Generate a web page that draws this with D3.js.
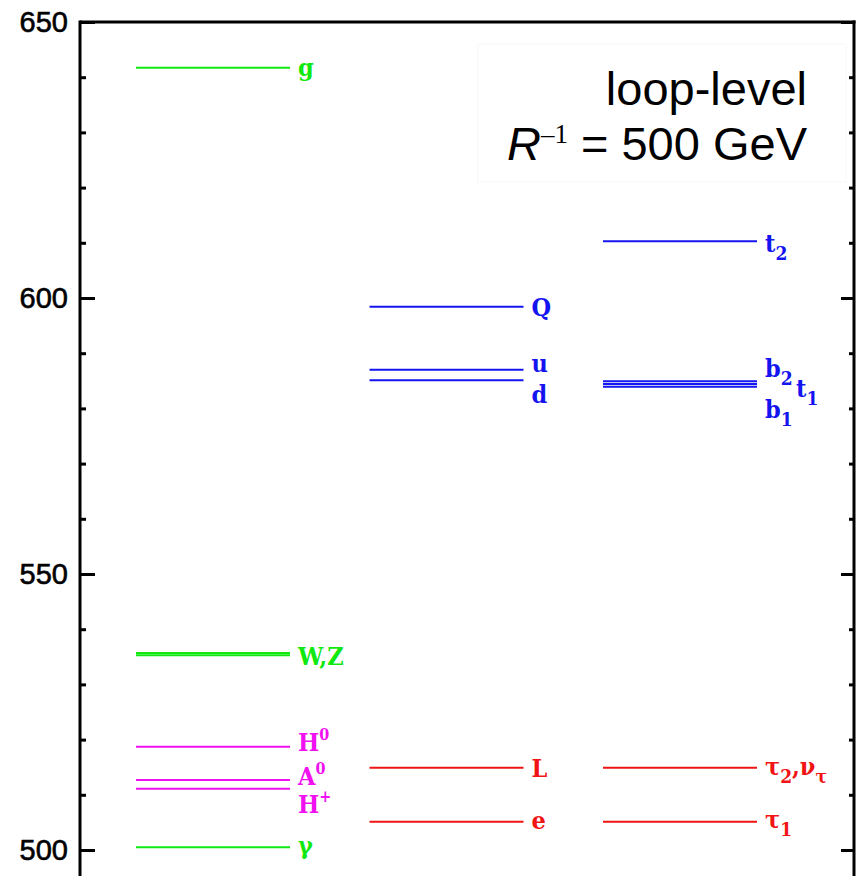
<!DOCTYPE html>
<html>
<head>
<meta charset="utf-8">
<script src="https://cdn.jsdelivr.net/npm/d3@7"></script>
<style>
  body { margin: 0; background: #fff; }
  svg { display: block; }
  .axis path { display: none; }
  .axis line { stroke: #000; stroke-width: 3; }
  .axis text { font-family: "Liberation Sans", Arial, sans-serif; font-size: 29px; fill: #000; stroke: #000; stroke-width: 0.6; }
  .lvl-label { font-family: "DejaVu Serif Condensed", "DejaVu Serif", serif; font-stretch: condensed; font-weight: bold; font-size: 25px; }
</style>
</head>
<body>
<div id="chart"></div>
<script>
const width = 857;
const height = 876;

// KK mass levels (GeV), one list per column
const columns = ["bosons", "quarks", "third"];

const bosonNames  = ["g", "W", "Z", "H0", "A0", "H+", "γ"];
const bosonMasses = [641.7, 535.3, 535.7, 518.7, 512.7, 511.1, 500.5];
const bosonKinds  = ["gauge", "gauge", "gauge", "higgs", "higgs", "higgs", "gauge"];

const quarkNames  = ["Q", "u", "d", "L", "e"];
const quarkMasses = [598.4, 587.0, 585.1, 514.9, 505.1];
const quarkKinds  = ["quark", "quark", "quark", "lepton", "lepton"];

const thirdNames  = ["t2", "b2", "t1", "b1", "τ2", "τ1"];
const thirdMasses = [610.3, 584.9, 584.4, 583.9, 514.9, 505.1];
const thirdKinds  = ["quark", "quark", "quark", "quark", "lepton", "lepton"];

const majorTicks = [500, 550, 600, 650];
const minorTicks = d3.range(500, 651, 10).filter(v => v % 50 !== 0);

const kindColor = {
  gauge: "#10e810",
  higgs: "#f010f0",
  quark: "#1414f0",
  lepton: "#f01414"
};

const svg = d3.select('#chart')
  .append('svg')
  .attr('width', width)
  .attr('height', height);

const marginLeft = 80, frameRight = 854, frameTop = 22;

const y = d3.scaleLinear()
  .domain([500, 650])
  .range([850, frameTop]);

// column start positions, fixed line length
const x = d3.scalePoint()
  .domain(columns)
  .range([136, 603]);
const lineLen = 154;

// frame
svg.append('line')
  .attr('x1', marginLeft).attr('x2', frameRight + 1.5)
  .attr('y1', frameTop).attr('y2', frameTop)
  .attr('stroke', '#000').attr('stroke-width', 3);
svg.append('line')
  .attr('x1', marginLeft).attr('x2', marginLeft)
  .attr('y1', frameTop - 1.5).attr('y2', height)
  .attr('stroke', '#000').attr('stroke-width', 3);
svg.append('line')
  .attr('x1', frameRight).attr('x2', frameRight)
  .attr('y1', frameTop - 1.5).attr('y2', height)
  .attr('stroke', '#000').attr('stroke-width', 3);

// left axis
svg.append('g')
  .attr('class', 'axis')
  .attr('transform', `translate(${marginLeft},0)`)
  .call(d3.axisLeft(y).tickValues(majorTicks).tickSize(-15).tickPadding(12).tickFormat(d3.format('d')));
svg.append('g')
  .attr('class', 'axis')
  .attr('transform', `translate(${marginLeft},0)`)
  .call(d3.axisLeft(y).tickValues(minorTicks).tickSize(-6).tickFormat(''));

// right axis
svg.append('g')
  .attr('class', 'axis')
  .attr('transform', `translate(${frameRight},0)`)
  .call(d3.axisRight(y).tickValues(majorTicks).tickSize(-13).tickFormat(''));
svg.append('g')
  .attr('class', 'axis')
  .attr('transform', `translate(${frameRight},0)`)
  .call(d3.axisRight(y).tickValues(minorTicks).tickSize(-5).tickFormat(''));

// levels
function drawColumn(col, names, masses, kinds) {
  const rows = names.map((n, i) => ({ name: n, mass: masses[i], kind: kinds[i] }));
  svg.append('g')
    .selectAll('line')
    .data(rows)
    .join('line')
      .attr('x1', x(col))
      .attr('x2', x(col) + lineLen)
      .attr('y1', d => y(d.mass))
      .attr('y2', d => y(d.mass))
      .attr('stroke', d => kindColor[d.kind])
      .attr('stroke-width', 2);
}
drawColumn("bosons", bosonNames, bosonMasses, bosonKinds);
drawColumn("quarks", quarkNames, quarkMasses, quarkKinds);
drawColumn("third", thirdNames, thirdMasses, thirdKinds);

// labels: text parts (with sub/superscripts), mass to hang on, vertical nudge
function label(col, parts, mass, kind, dy, dx = 0) {
  const t = svg.append('text')
    .attr('class', 'lvl-label')
    .attr('x', x(col) + lineLen + 8 + dx)
    .attr('y', y(mass) + dy)
    .attr('fill', kindColor[kind]);
  parts.forEach(p => {
    const s = t.append('tspan').text(p.t);
    if (p.sub) s.attr('dy', 8).attr('font-size', 19);
    if (p.sup) s.attr('dy', -11).attr('font-size', 16);
    if (p.back) s.attr('dy', p.back);
  });
  return t;
}

label("bosons", [{ t: "g" }], bosonMasses[0], "gauge", 8);
label("bosons", [{ t: "W,Z" }], bosonMasses[1], "gauge", 10);
label("bosons", [{ t: "H" }, { t: "0", sup: true }], bosonMasses[3], "higgs", 4);
label("bosons", [{ t: "A" }, { t: "0", sup: true }], bosonMasses[4], "higgs", 5);
label("bosons", [{ t: "H" }, { t: "+", sup: true }], bosonMasses[5], "higgs", 24);
label("bosons", [{ t: "γ" }], bosonMasses[6], "gauge", 7);

label("quarks", [{ t: "Q" }], quarkMasses[0], "quark", 9);
label("quarks", [{ t: "u" }], quarkMasses[1], "quark", 2);
label("quarks", [{ t: "d" }], quarkMasses[2], "quark", 23);
label("quarks", [{ t: "L" }], quarkMasses[3], "lepton", 9);
label("quarks", [{ t: "e" }], quarkMasses[4], "lepton", 7);

label("third", [{ t: "t" }, { t: "2", sub: true }], thirdMasses[0], "quark", 11);
label("third", [{ t: "b" }, { t: "2", sub: true }], thirdMasses[1], "quark", -4);
label("third", [{ t: "t" }, { t: "1", sub: true }], thirdMasses[2], "quark", 13, 31);
label("third", [{ t: "b" }, { t: "1", sub: true }], thirdMasses[3], "quark", 31);
label("third", [{ t: "τ" }, { t: "2", sub: true }, { t: ",ν", back: -8 }, { t: "τ", sub: true }], thirdMasses[4], "lepton", 7);
label("third", [{ t: "τ" }, { t: "1", sub: true }], thirdMasses[5], "lepton", 6);

// inset note
svg.append('rect')
  .attr('x', 478).attr('y', 44)
  .attr('width', 368).attr('height', 138)
  .attr('fill', '#fff')
  .attr('stroke', '#f8f8f8')
  .attr('stroke-width', 1);

svg.append('text')
  .attr('x', 807).attr('y', 105)
  .attr('text-anchor', 'end')
  .attr('font-family', '"Liberation Sans", Arial, sans-serif')
  .attr('font-size', 47)
  .text('loop-level');

const note = svg.append('text')
  .attr('x', 807).attr('y', 160)
  .attr('text-anchor', 'end')
  .attr('font-family', '"Liberation Sans", Arial, sans-serif')
  .attr('font-size', 47);
note.append('tspan').attr('font-style', 'italic').text('R');
note.append('tspan')
  .attr('dy', -17).attr('font-size', 27)
  .attr('font-family', '"Liberation Serif", "Times New Roman", serif')
  .text('–1');
note.append('tspan').attr('dy', 17).text(' = 500 GeV');
</script>
</body>
</html>
